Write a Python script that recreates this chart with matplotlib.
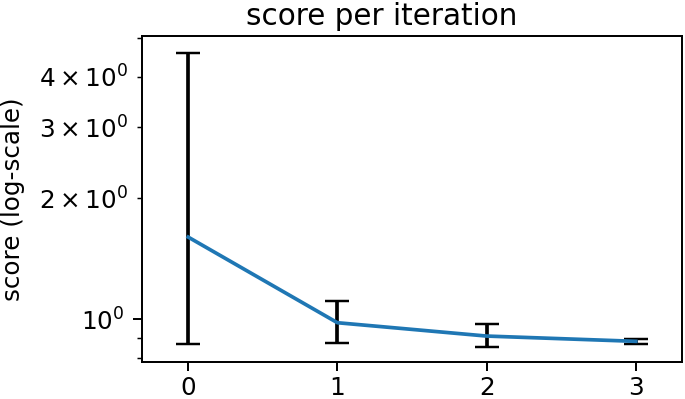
import numpy as np
import matplotlib
matplotlib.use("Agg")
import matplotlib.pyplot as plt

# score per iteration (mean with lower / upper extent)
iterations = [0, 1, 2, 3]
score_mean = [1.60, 0.981, 0.909, 0.882]
score_low = [0.868, 0.872, 0.852, 0.868]
score_high = [4.59, 1.11, 0.972, 0.894]

mean = np.array(score_mean)
yerr = [mean - np.array(score_low), np.array(score_high) - mean]

dpi = 177
fig = plt.figure(figsize=(685 / dpi, 399 / dpi), dpi=dpi)
ax = fig.add_axes([142 / 685, (399 - 361.5) / 399, (682 - 142) / 685, (361.5 - 36) / 399])

ax.errorbar(iterations, mean, yerr=yerr, ecolor='black', capsize=5, color='tab:blue')
ax.set_yscale('log')
ax.set_ylim(0.786, 5.05)
ax.set_xlim(-0.31, 3.31)
ax.set_xticks(iterations)
ax.tick_params(axis='x', pad=2.5)

ax.set_title('score per iteration', x=(382 - 142) / (682 - 142), pad=4.5)
ax.set_ylabel('score (log-scale)', labelpad=6)

fig.savefig('out.png', dpi=dpi)
